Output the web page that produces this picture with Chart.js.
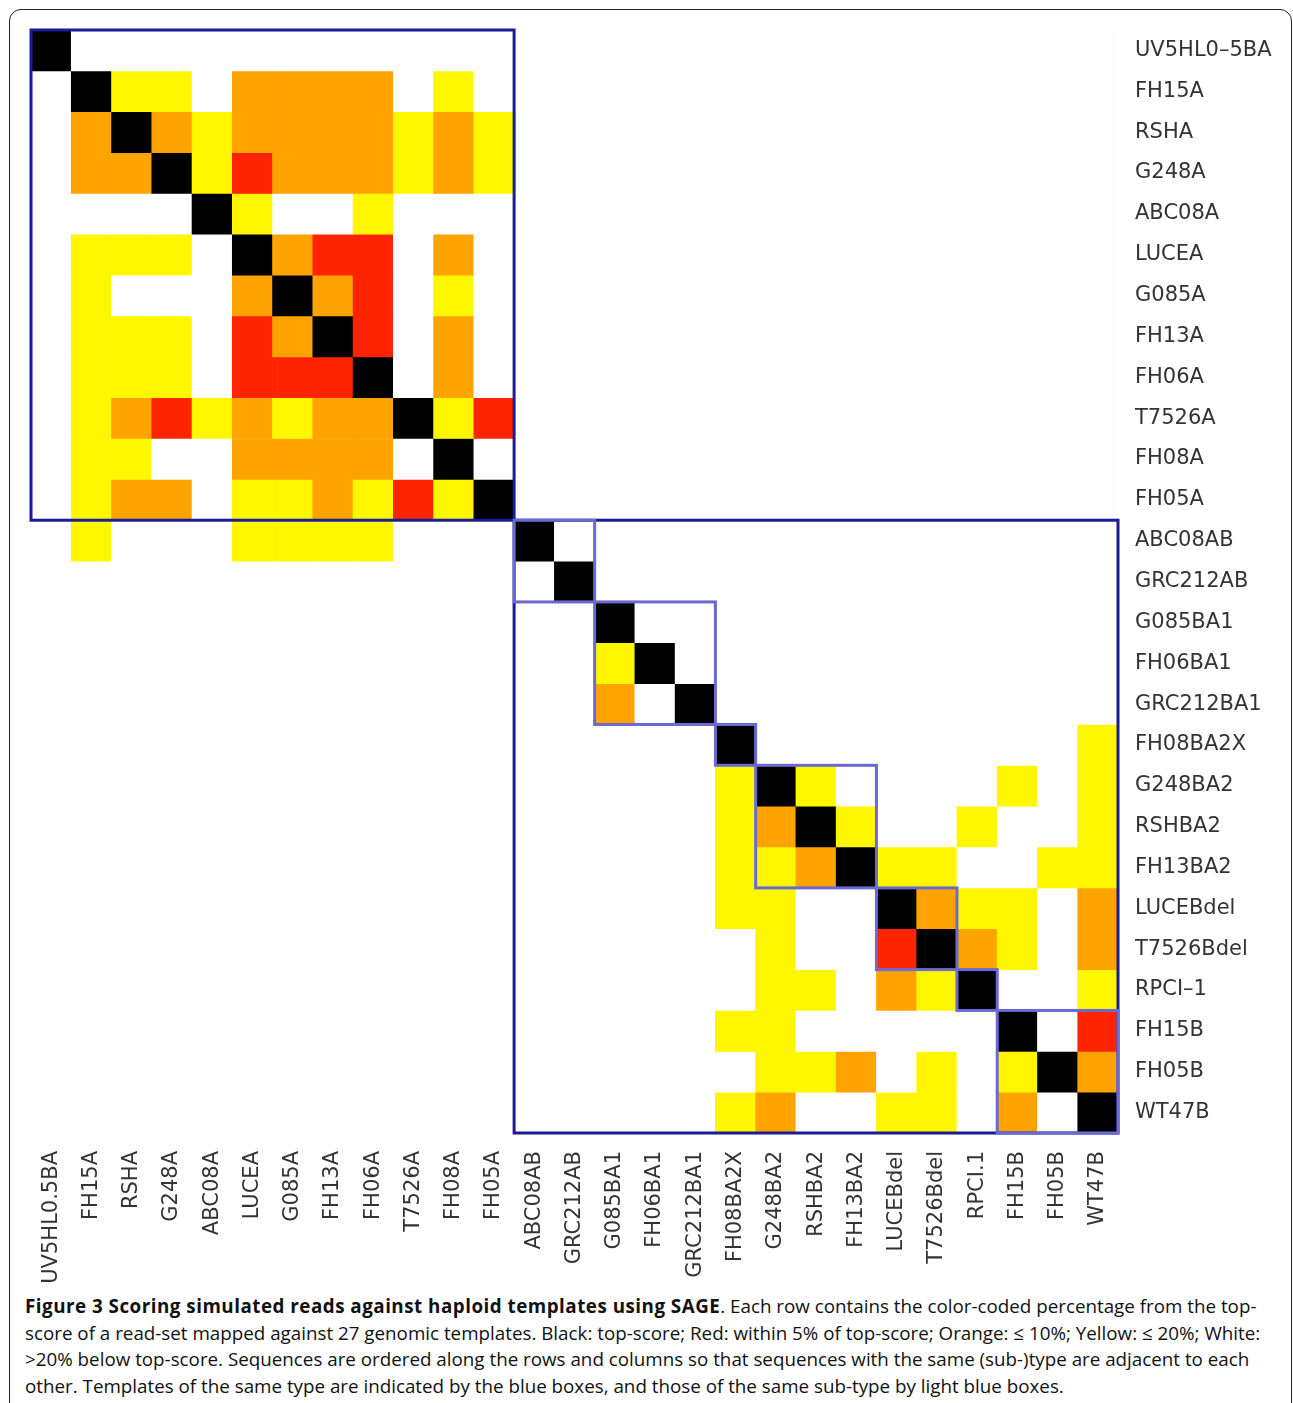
<!DOCTYPE html>
<html>
<head>
<meta charset="utf-8">
<script src="https://cdn.jsdelivr.net/npm/chart.js@4/dist/chart.umd.min.js"></script>
<style>
  html, body { margin: 0; padding: 0; background: #fff; }
  body { width: 1293px; height: 1403px; position: relative; overflow: hidden; }
  #frame {
    position: absolute; left: 9px; top: 9px; width: 1283px; height: 1420px;
    border: 1.5px solid #222; border-radius: 12px; box-sizing: border-box;
  }
  #wrap { position: absolute; left: 0; top: 0; width: 1293px; height: 1292px; }
  #caption {
    position: absolute; left: 25px; top: 1293px;
    font-family: "Open Sans", sans-serif;
    font-size: 18.8px; line-height: 26.5px; color: #111; white-space: nowrap;
  }
  #caption b { font-weight: bold; letter-spacing: 0.5px; }
</style>
</head>
<body>
<div id="frame"></div>
<div id="wrap"><canvas id="chart"></canvas></div>
<div id="caption">
<b>Figure 3 Scoring simulated reads against haploid templates using SAGE</b>. Each row contains the color-coded percentage from the top-<br>
score of a read-set mapped against 27 genomic templates. Black: top-score; Red: within 5% of top-score; Orange: ≤ 10%; Yellow: ≤ 20%; White:<br>
&gt;20% below top-score. Sequences are ordered along the rows and columns so that sequences with the same (sub-)type are adjacent to each<br>
other. Templates of the same type are indicated by the blue boxes, and those of the same sub-type by light blue boxes.
</div>
<script>
// row names (right side) and column names (bottom)
const rowLabels = ["UV5HL0–5BA", "FH15A", "RSHA", "G248A", "ABC08A", "LUCEA", "G085A", "FH13A", "FH06A",
  "T7526A", "FH08A", "FH05A", "ABC08AB", "GRC212AB", "G085BA1", "FH06BA1", "GRC212BA1", "FH08BA2X",
  "G248BA2", "RSHBA2", "FH13BA2", "LUCEBdel", "T7526Bdel", "RPCI–1", "FH15B", "FH05B", "WT47B"];
const colLabels = ["UV5HL0.5BA", "FH15A", "RSHA", "G248A", "ABC08A", "LUCEA", "G085A", "FH13A", "FH06A",
  "T7526A", "FH08A", "FH05A", "ABC08AB", "GRC212AB", "G085BA1", "FH06BA1", "GRC212BA1", "FH08BA2X",
  "G248BA2", "RSHBA2", "FH13BA2", "LUCEBdel", "T7526Bdel", "RPCI.1", "FH15B", "FH05B", "WT47B"];

// 0 white (>20% below), 1 yellow (<=20%), 2 orange (<=10%), 3 red (within 5%), 4 black (top-score)
const levels = [
  [4,0,0,0,0,0,0,0,0,0,0,0,0,0,0,0,0,0,0,0,0,0,0,0,0,0,0],
  [0,4,1,1,0,2,2,2,2,0,1,0,0,0,0,0,0,0,0,0,0,0,0,0,0,0,0],
  [0,2,4,2,1,2,2,2,2,1,2,1,0,0,0,0,0,0,0,0,0,0,0,0,0,0,0],
  [0,2,2,4,1,3,2,2,2,1,2,1,0,0,0,0,0,0,0,0,0,0,0,0,0,0,0],
  [0,0,0,0,4,1,0,0,1,0,0,0,0,0,0,0,0,0,0,0,0,0,0,0,0,0,0],
  [0,1,1,1,0,4,2,3,3,0,2,0,0,0,0,0,0,0,0,0,0,0,0,0,0,0,0],
  [0,1,0,0,0,2,4,2,3,0,1,0,0,0,0,0,0,0,0,0,0,0,0,0,0,0,0],
  [0,1,1,1,0,3,2,4,3,0,2,0,0,0,0,0,0,0,0,0,0,0,0,0,0,0,0],
  [0,1,1,1,0,3,3,3,4,0,2,0,0,0,0,0,0,0,0,0,0,0,0,0,0,0,0],
  [0,1,2,3,1,2,1,2,2,4,1,3,0,0,0,0,0,0,0,0,0,0,0,0,0,0,0],
  [0,1,1,0,0,2,2,2,2,0,4,0,0,0,0,0,0,0,0,0,0,0,0,0,0,0,0],
  [0,1,2,2,0,1,1,2,1,3,1,4,0,0,0,0,0,0,0,0,0,0,0,0,0,0,0],
  [0,1,0,0,0,1,1,1,1,0,0,0,4,0,0,0,0,0,0,0,0,0,0,0,0,0,0],
  [0,0,0,0,0,0,0,0,0,0,0,0,0,4,0,0,0,0,0,0,0,0,0,0,0,0,0],
  [0,0,0,0,0,0,0,0,0,0,0,0,0,0,4,0,0,0,0,0,0,0,0,0,0,0,0],
  [0,0,0,0,0,0,0,0,0,0,0,0,0,0,1,4,0,0,0,0,0,0,0,0,0,0,0],
  [0,0,0,0,0,0,0,0,0,0,0,0,0,0,2,0,4,0,0,0,0,0,0,0,0,0,0],
  [0,0,0,0,0,0,0,0,0,0,0,0,0,0,0,0,0,4,0,0,0,0,0,0,0,0,1],
  [0,0,0,0,0,0,0,0,0,0,0,0,0,0,0,0,0,1,4,1,0,0,0,0,1,0,1],
  [0,0,0,0,0,0,0,0,0,0,0,0,0,0,0,0,0,1,2,4,1,0,0,1,0,0,1],
  [0,0,0,0,0,0,0,0,0,0,0,0,0,0,0,0,0,1,1,2,4,1,1,0,0,1,1],
  [0,0,0,0,0,0,0,0,0,0,0,0,0,0,0,0,0,1,1,0,0,4,2,1,1,0,2],
  [0,0,0,0,0,0,0,0,0,0,0,0,0,0,0,0,0,0,1,0,0,3,4,2,1,0,2],
  [0,0,0,0,0,0,0,0,0,0,0,0,0,0,0,0,0,0,1,1,0,2,1,4,0,0,1],
  [0,0,0,0,0,0,0,0,0,0,0,0,0,0,0,0,0,1,1,0,0,0,0,0,4,0,3],
  [0,0,0,0,0,0,0,0,0,0,0,0,0,0,0,0,0,0,1,1,2,0,1,0,1,4,2],
  [0,0,0,0,0,0,0,0,0,0,0,0,0,0,0,0,0,1,2,0,0,1,1,0,2,0,4]
];
const levelColors = ["#fefefe", "#fff700", "#ffa300", "#ff2400", "#000000"];

// index ranges [first, last] of the boxes
const typeBoxes = [[0, 11], [12, 26]];
const subtypeBoxes = [[12, 13], [14, 16], [17, 17], [18, 20], [21, 22], [23, 23], [24, 26]];

const datasets = levels.map((row, r) => ({
  label: rowLabels[r],
  data: row.map(() => [r, r + 1]),
  backgroundColor: row.map(v => levelColors[v]),
  borderWidth: 0,
  grouped: false,
  barPercentage: 1,
  categoryPercentage: 1
}));

const boxPlugin = {
  id: "boxes",
  afterDatasetsDraw(chart) {
    const ctx = chart.ctx;
    const x = chart.scales.x, y = chart.scales.y;
    const half = (x.getPixelForValue(1) - x.getPixelForValue(0)) / 2;
    function box(b, color) {
      const x0 = x.getPixelForValue(b[0]) - half, x1 = x.getPixelForValue(b[1]) + half;
      const y0 = y.getPixelForValue(b[0]), y1 = y.getPixelForValue(b[1] + 1);
      ctx.strokeStyle = color;
      ctx.strokeRect(x0, y0, x1 - x0, y1 - y0);
    }
    ctx.save();
    ctx.lineWidth = 3;
    typeBoxes.forEach(b => box(b, "#1b1b96"));
    subtypeBoxes.forEach(b => box(b, "#6a6ad2"));
    ctx.restore();
  }
};

new Chart(document.getElementById("chart"), {
  type: "bar",
  data: { labels: colLabels, datasets: datasets },
  options: {
    responsive: true,
    maintainAspectRatio: false,
    animation: false,
    layout: { padding: { left: 31, top: 30, right: 0, bottom: 0 } },
    plugins: { legend: { display: false }, tooltip: { enabled: false } },
    scales: {
      x: {
        offset: true,
        grid: { display: false },
        border: { display: false },
        ticks: {
          autoSkip: false, minRotation: 90, maxRotation: 90, padding: 10,
          color: "#333", font: { family: "DejaVu Sans", size: 21 }
        },
        afterFit: s => { s.height = 159; }
      },
      y: { display: false, min: 0, max: 27, reverse: true },
      rows: {
        type: "category",
        position: "right",
        labels: rowLabels,
        offset: true,
        grid: { display: false, drawTicks: false },
        border: { display: false },
        ticks: { padding: 17, color: "#333", font: { family: "DejaVu Sans", size: 21 } },
        afterFit: s => { s.width = 175; }
      }
    }
  },
  plugins: [boxPlugin]
});
</script>
</body>
</html>
